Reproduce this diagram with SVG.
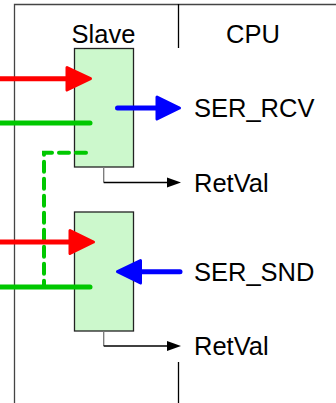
<svg xmlns="http://www.w3.org/2000/svg" width="336" height="403" viewBox="0 0 336 403">
<style>
.t{font-family:"Liberation Sans",Arial,sans-serif;font-size:25.5px;fill:#000}
.box{fill:#ccf8cc;stroke:#222;stroke-width:1.3}
.frame{stroke:#444;stroke-width:1.3;fill:none}
.red{stroke:#ff0000;stroke-width:5;fill:none;stroke-linecap:round}
.redh{fill:#ff0000;stroke:#ff0000;stroke-width:3;stroke-linejoin:round}
.grn{stroke:#00c800;stroke-width:5;fill:none;stroke-linecap:round}
.blu{stroke:#0000ff;stroke-width:5;fill:none;stroke-linecap:round}
.bluh{fill:#0000ff;stroke:#0000ff;stroke-width:3;stroke-linejoin:round}
.dash{stroke:#00c800;stroke-width:4;fill:none;stroke-dasharray:10 7;stroke-linecap:round}
.stem{stroke:#777;stroke-width:1.3;fill:none}
.ret{stroke:#000;stroke-width:1.3;fill:none}
</style>
<g id="frame">
<path class="frame" d="M14.5 403 V4.5 H336"/>
<line x1="178.5" y1="4" x2="178.5" y2="48" stroke="#000" stroke-width="1.3"/>
<line x1="178.5" y1="362" x2="178.5" y2="403" stroke="#000" stroke-width="1.3"/>
<text class="t" x="103.5" y="43" text-anchor="middle">Slave</text>
<text class="t" x="253" y="43" text-anchor="middle">CPU</text>
</g>
<g id="slave1">
<rect class="box" x="74.5" y="48.5" width="59" height="118.5"/>
</g>
<g id="slave2">
<rect class="box" x="74.5" y="212" width="59" height="119"/>
</g>
<g id="ser_rcv"><text class="t" x="194" y="117">SER_RCV</text></g>
<g id="retval1"><text class="t" x="194" y="192">RetVal</text></g>
<g id="ser_snd"><text class="t" x="194" y="281">SER_SND</text></g>
<g id="retval2"><text class="t" x="194" y="355">RetVal</text></g>
<g id="connectors">
<line class="red" x1="-3" y1="78.7" x2="70" y2="78.7"/>
<polygon class="redh" points="67,67.5 90.5,78.7 67,90"/>
<line class="grn" x1="-3" y1="123" x2="90" y2="123"/>
<line class="blu" x1="117.5" y1="108" x2="160" y2="108"/>
<polygon class="bluh" points="157,97 179.5,108 157,119"/>
<path class="dash" d="M86 152.7 H44 V287"/>
<path class="stem" d="M103.7 167 V182.5"/>
<path class="ret" d="M103.7 182.5 H170"/>
<polygon points="167,177.5 181,182.5 167,187.5" fill="#000"/>
<line class="red" x1="-3" y1="242" x2="72" y2="242"/>
<polygon class="redh" points="70,230.5 93.5,242 70,253.5"/>
<line class="grn" x1="-3" y1="287" x2="90" y2="287"/>
<line class="blu" x1="180" y1="271.7" x2="138" y2="271.7"/>
<polygon class="bluh" points="140.5,260.5 117.5,271.7 140.5,283"/>
<path class="stem" d="M103.7 331 V346"/>
<path class="ret" d="M103.7 346 H170"/>
<polygon points="167,341 181,346 167,351" fill="#000"/>
</g>
</svg>
